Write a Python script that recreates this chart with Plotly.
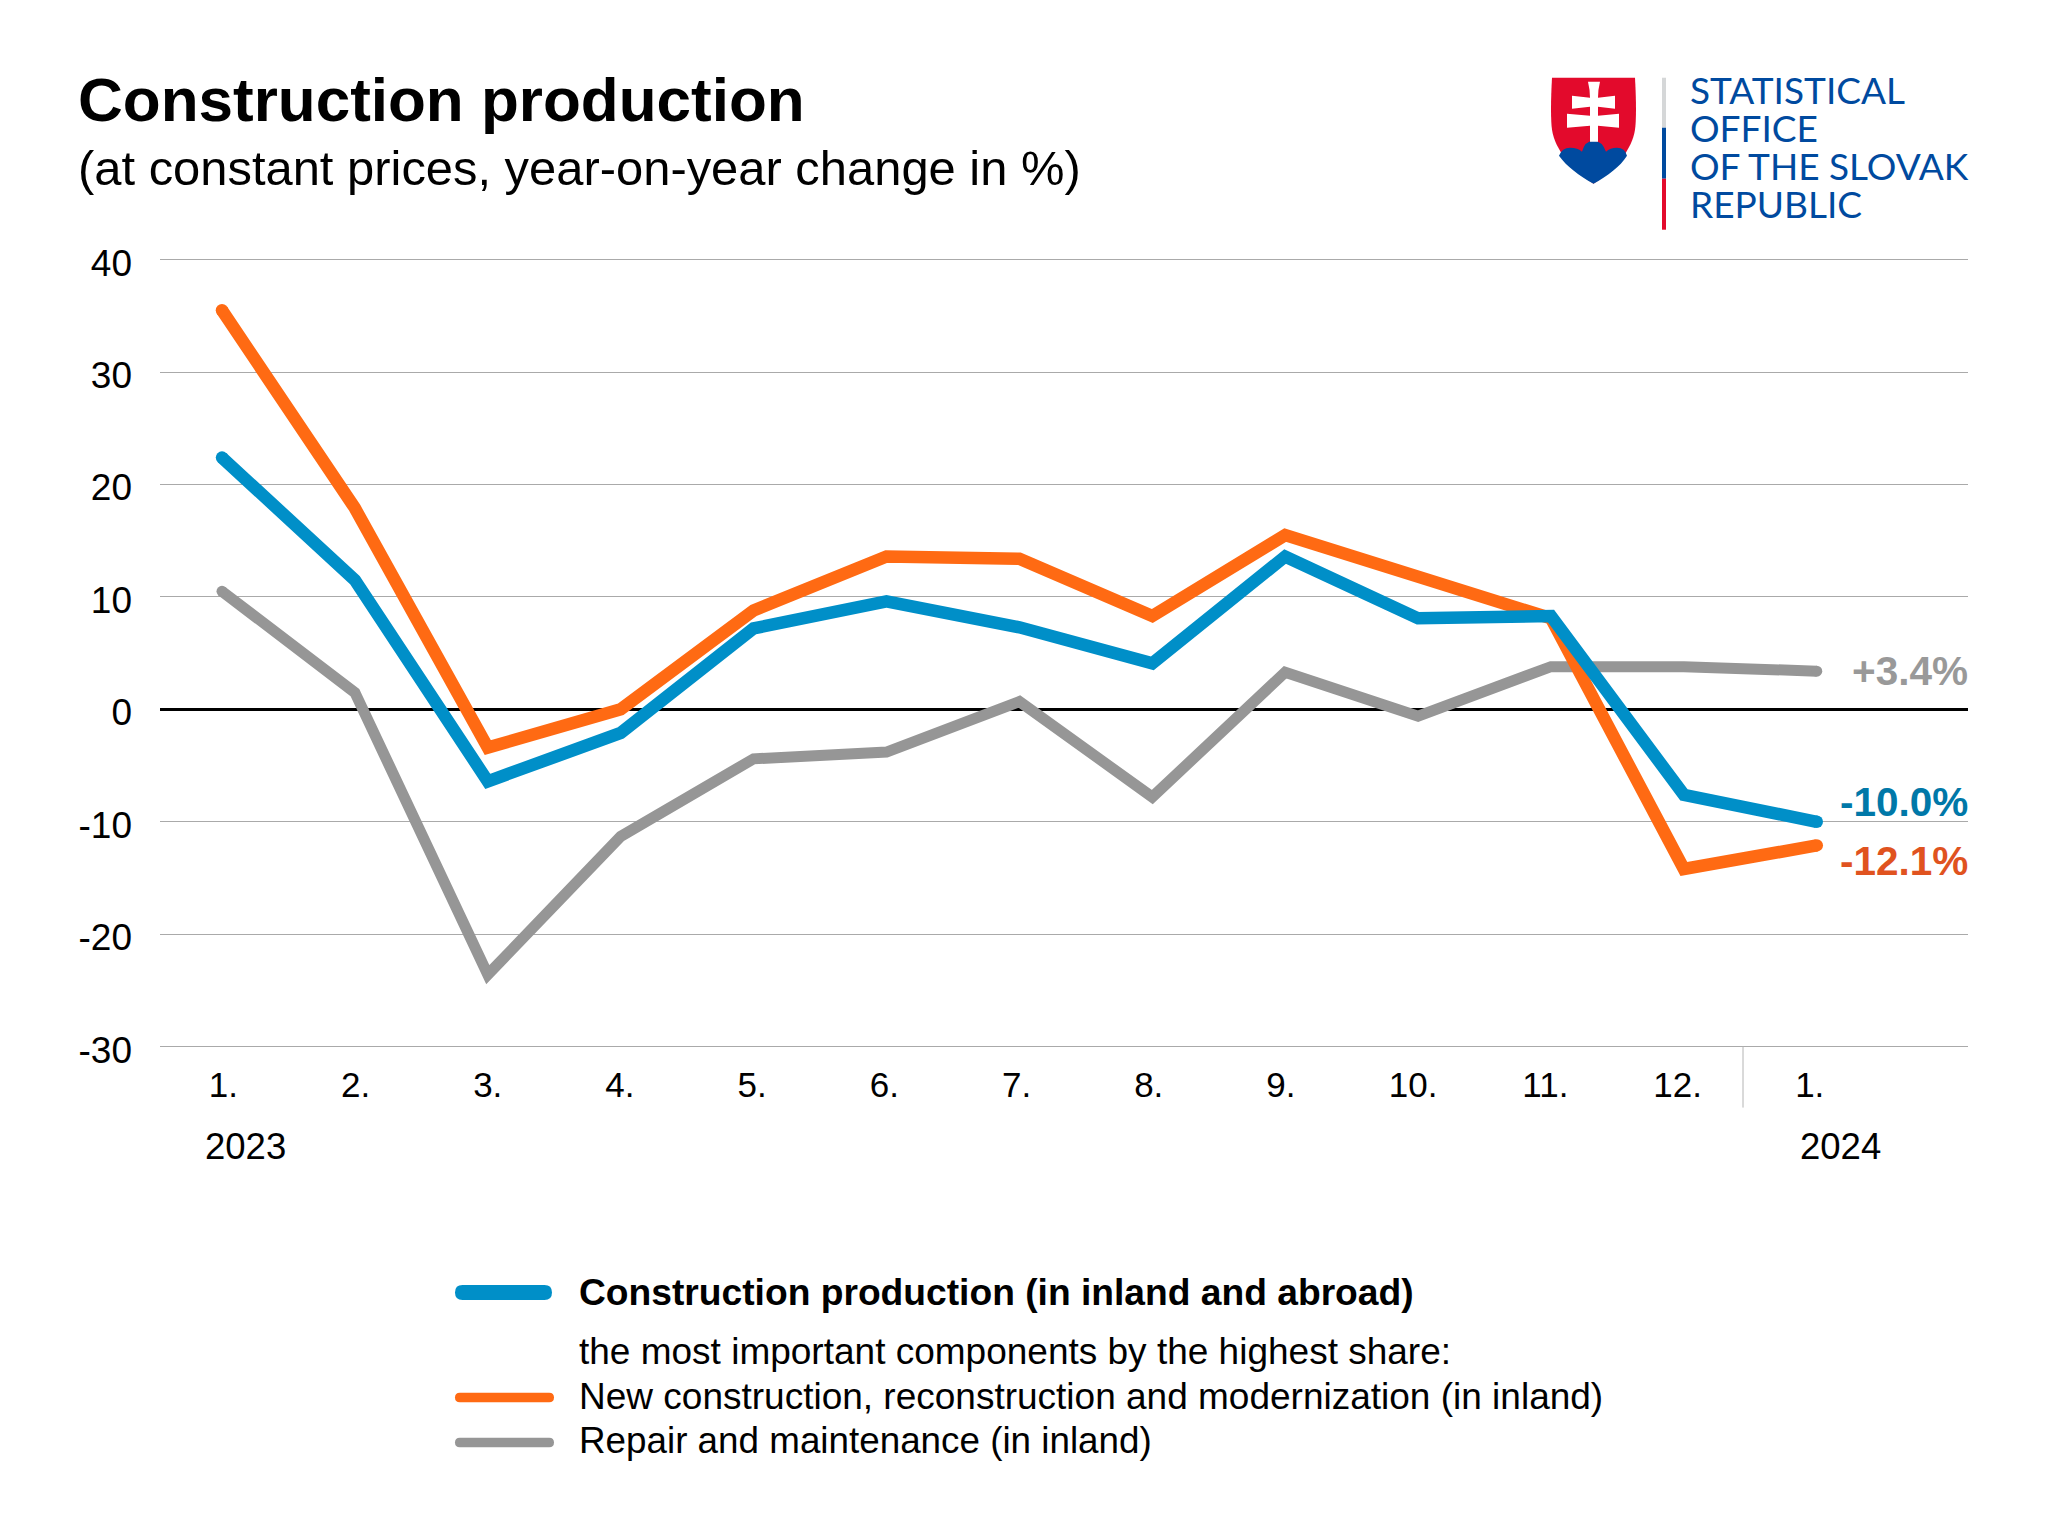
import plotly.graph_objects as go

months = ["1.", "2.", "3.", "4.", "5.", "6.", "7.", "8.", "9.", "10.", "11.", "12.", "1."]
construction = [22.4, 11.5, -6.4, -2.1, 7.2, 9.6, 7.3, 4.1, 13.6, 8.1, 8.3, -7.6, -10.0]
new_construction = [35.5, 17.9, -3.4, 0.0, 8.8, 13.6, 13.4, 8.3, 15.5, 11.8, 8.1, -14.2, -12.1]
repair = [10.5, 1.5, -23.6, -11.3, -4.4, -3.8, 0.7, -7.8, 3.3, -0.6, 3.8, 3.8, 3.4]
y_ticks = [40, 30, 20, 10, 0, -10, -20, -30]
y_tick_labels = ["40", "30", "20", "10", "0", "-10", "-20", "-30"]
end_labels = ["-10.0%", "-12.1%", "+3.4%"]
legend_labels = ["Construction production (in inland and abroad)",
                 "the most important components by the highest share:",
                 "New construction, reconstruction and modernization (in inland)",
                 "Repair and maintenance (in inland)"]
logo_lines = ["STATISTICAL", "OFFICE", "OF THE SLOVAK", "REPUBLIC"]

W, H = 2048, 1536
L, R, T, B = 160, 1968, 258.3, 1050.4
BLUE, ORANGE, GRAY = "#008fc8", "#ff6a13", "#969696"
FONT = "Liberation Sans"


def px(x, y):
    return (x - L) / (R - L), (B - y) / (B - T)


def path(cmds):
    out = []
    for c in cmds:
        if isinstance(c, str):
            out.append(c)
        else:
            a, b = px(*c)
            out.append(f"{a:.5f},{b:.5f}")
    return " ".join(out)


xs = list(range(len(months)))
fig = go.Figure()
for vals, col, w in [(repair, GRAY, 11), (new_construction, ORANGE, 12.5), (construction, BLUE, 12.5)]:
    sizes = [w] + [0] * (len(vals) - 2) + [w]
    fig.add_trace(go.Scatter(x=xs, y=vals, mode="lines+markers", showlegend=False,
                             line=dict(color=col, width=w),
                             marker=dict(color=col, size=sizes, opacity=1, line=dict(width=0))))
# carries the month and value labels on their own axes
fig.add_trace(go.Scatter(x=xs, y=construction, xaxis="x2", yaxis="y2", mode="lines", opacity=0, showlegend=False,
                         hoverinfo="skip", line=dict(width=0)))

shapes = []
annos = []


def text(x, y, s, size, color="#000000", anchor="left", bold=False, family=FONT):
    a, b = px(x, y)
    annos.append(dict(xref="paper", yref="paper", x=a, y=b, text=f"<b>{s}</b>" if bold else s,
                      showarrow=False, xanchor=anchor, yanchor="middle",
                      font=dict(family=family, size=size, color=color),
                      borderpad=0, borderwidth=0))


def capsule(x0, x1, yc, h, color):
    r = h / 2
    p = path(["M", (x0 + r, yc - r), "L", (x1 - r, yc - r), "Q", (x1, yc - r), (x1, yc), "Q", (x1, yc + r), (x1 - r, yc + r),
              "L", (x0 + r, yc + r), "Q", (x0, yc + r), (x0, yc), "Q", (x0, yc - r), (x0 + r, yc - r), "Z"])
    shapes.append(dict(type="path", xref="paper", yref="paper", path=p, fillcolor=color, line=dict(width=0)))


def poly(cmds, color):
    shapes.append(dict(type="path", xref="paper", yref="paper", path=path(cmds), fillcolor=color, line=dict(width=0)))


# title
text(78, 100, "Construction production", 62, bold=True)
text(78, 168, "(at constant prices, year-on-year change in %)", 48.9)

# logo
poly(["M", (1552, 78), "L", (1635, 78), "Q", (1637, 115), (1635, 130), "C", (1632, 150), (1615, 170), (1593.5, 184),
      "C", (1572, 170), (1555, 150), (1552, 130), "Q", (1550, 115), (1552, 78), "Z"], "#e30a2c")
poly(["M", (1559, 156), "Q", (1562, 148), (1570, 148), "Q", (1578, 148), (1582, 152), "Q", (1585, 141), (1593.5, 141),
      "Q", (1602, 141), (1606, 152), "Q", (1610, 148), (1617, 148), "Q", (1625, 148), (1627, 156),
      "C", (1620, 167), (1608, 176), (1593.5, 184), "C", (1579, 176), (1567, 167), (1559, 156), "Z"], "#004a9f")
poly(["M", (1588, 82), "L", (1600, 82), "Q", (1598, 90), (1598, 98), "L", (1615, 96), "L", (1615, 109), "L", (1598, 107),
      "L", (1598, 116), "L", (1619, 114), "L", (1619, 128), "L", (1598, 126), "L", (1598, 142), "L", (1590, 142), "L", (1590, 126),
      "L", (1567, 128), "L", (1567, 114), "L", (1590, 116), "L", (1590, 107), "L", (1572, 109), "L", (1572, 96), "L", (1590, 98),
      "Q", (1590, 90), (1588, 82), "Z"], "#ffffff")
for y0, y1, c in [(78, 128, "#d5d7d8"), (128, 179, "#004a9f"), (179, 230, "#e30a2c")]:
    a0, b0 = px(1662, y0)
    a1, b1 = px(1666, y1)
    shapes.append(dict(type="rect", xref="paper", yref="paper", x0=a0, x1=a1, y0=b0, y1=b1, fillcolor=c, line=dict(width=0)))
for i, s in enumerate(logo_lines):
    text(1690, 90 + i * 37.8, s, 37, color="#004a9f", family="Lato")

# separator between years
_, b0 = px(0, 1047)
_, b1 = px(0, 1108)
shapes.append(dict(type="line", xref="x", yref="paper", x0=11.445, x1=11.445, y0=b0, y1=b1, line=dict(color="#b4b4b4", width=1)))

# years
text(245, 1147, "2023", 36.5, anchor="center")
text(1840, 1147, "2024", 36.5, anchor="center")

# end labels
text(1968, 802, end_labels[0], 40.5, color="#0078a8", anchor="right", bold=True)
text(1968, 861, end_labels[1], 40.5, color="#e0531f", anchor="right", bold=True)
text(1968, 671, end_labels[2], 40.5, color="#999999", anchor="right", bold=True)

# legend
capsule(455, 552, 1293, 15, BLUE)
capsule(455, 554, 1398, 9.5, ORANGE)
capsule(455, 554, 1443, 9.5, GRAY)
text(579, 1292, legend_labels[0], 37.2, bold=True)
text(579, 1352, legend_labels[1], 37)
text(579, 1397, legend_labels[2], 37)
text(579, 1441, legend_labels[3], 36.8)

fig.update_layout(
    width=W, height=H, autosize=False, plot_bgcolor="#ffffff", paper_bgcolor="#ffffff",
    margin=dict(l=L, r=W - R, t=T, b=H - B, pad=0),
    font=dict(family=FONT, size=36, color="#000000"),
    shapes=shapes, annotations=annos, showlegend=False,
    xaxis=dict(range=[-0.4665, 13.138], showticklabels=False, showgrid=False,
               zeroline=False, showline=False, ticks=""),
    xaxis2=dict(range=[-0.479, 13.197], overlaying="x", side="bottom", anchor="y", tickmode="array", tickvals=xs,
                ticktext=months, showgrid=False, zeroline=False, showline=False, ticks="", ticklabelstandoff=11,
                tickfont=dict(size=35, family=FONT, color="#000000")),
    yaxis=dict(range=[-30.3, 40.15], tickmode="array", tickvals=y_ticks, showticklabels=False,
               showgrid=True, gridcolor="#aaaaaa", gridwidth=1,
               zeroline=True, zerolinecolor="#000000", zerolinewidth=2.5, showline=False, ticks=""),
    yaxis2=dict(range=[-30.04, 40.41], overlaying="y", side="left", anchor="x", tickmode="array", tickvals=y_ticks,
                ticktext=y_tick_labels, showgrid=False, zeroline=False, showline=False, ticks="",
                ticklabelstandoff=27, tickfont=dict(size=37, family=FONT, color="#000000")),
)
fig.write_html("out.html", config={"displayModeBar": False}, post_script="document.body.style.margin='0';")
